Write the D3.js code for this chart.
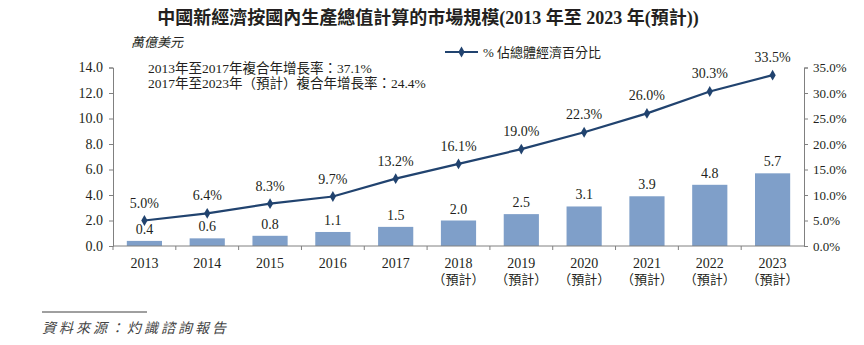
<!DOCTYPE html>
<html>
<head>
<meta charset="utf-8">
<script src="https://cdn.jsdelivr.net/npm/d3@7"></script>
<style>
  body { margin: 0; background: #fff; }
  svg { display: block; }
  text { font-family: "Liberation Serif", "Noto Sans CJK TC", serif; fill: #231f20; }
  .axis path, .axis line { stroke: #808080; }
</style>
</head>
<body>
<div id="vis"></div>
<script>
const FRAME_WIDTH = 864;
const FRAME_HEIGHT = 345;
const PLOT = {left: 113, right: 804, top: 67.5, bottom: 246};

// data
const years = ["2013", "2014", "2015", "2016", "2017", "2018", "2019", "2020", "2021", "2022", "2023"];
const forecast = [false, false, false, false, false, true, true, true, true, true, true];
const marketSize = [0.4, 0.6, 0.8, 1.1, 1.5, 2.0, 2.5, 3.1, 3.9, 4.8, 5.7];
const shareOfEconomy = [5.0, 6.4, 8.3, 9.7, 13.2, 16.1, 19.0, 22.3, 26.0, 30.3, 33.5];
const leftTicks = [0, 2, 4, 6, 8, 10, 12, 14];
const rightTicks = [0, 5, 10, 15, 20, 25, 30, 35];

const BAR_COLOR = "#7f9fc9";
const LINE_COLOR = "#21436f";

const svg = d3.select("#vis")
  .append("svg")
    .attr("width", FRAME_WIDTH)
    .attr("height", FRAME_HEIGHT);

// scales
const X_SCALE = d3.scaleBand()
  .domain(years)
  .range([PLOT.left, PLOT.right])
  .paddingInner(0.44)
  .paddingOuter(0.22);

const Y_LEFT = d3.scaleLinear().domain([0, 14]).range([PLOT.bottom, PLOT.top]);
const Y_RIGHT = d3.scaleLinear().domain([0, 35]).range([PLOT.bottom, PLOT.top]);

const cx = (d) => X_SCALE(d) + X_SCALE.bandwidth() / 2;

// title
svg.append("text")
  .attr("x", 428)
  .attr("y", 24)
  .attr("text-anchor", "middle")
  .attr("font-size", "18px")
  .attr("font-weight", "bold")
  .text("中國新經濟按國內生產總值計算的市場規模(2013 年至 2023 年(預計))");

// unit
svg.append("text")
  .attr("x", 131)
  .attr("y", 47)
  .attr("font-size", "13px")
  .attr("font-style", "italic")
  .text("萬億美元");

// CAGR notes
svg.append("text")
  .attr("x", 148)
  .attr("y", 73)
  .attr("font-size", "13.5px")
  .text("2013年至2017年複合年增長率：37.1%");
svg.append("text")
  .attr("x", 148)
  .attr("y", 88)
  .attr("font-size", "13.5px")
  .text("2017年至2023年（預計）複合年增長率：24.4%");

// bars
svg.selectAll(".bar")
  .data(marketSize)
  .enter()
  .append("rect")
    .attr("x", (d, i) => X_SCALE(years[i]))
    .attr("y", (d) => Y_LEFT(d))
    .attr("width", X_SCALE.bandwidth())
    .attr("height", (d) => Y_LEFT(0) - Y_LEFT(d))
    .attr("fill", BAR_COLOR);

svg.selectAll(".barLabel")
  .data(marketSize)
  .enter()
  .append("text")
    .attr("x", (d, i) => cx(years[i]))
    .attr("y", (d) => Y_LEFT(d) - 7)
    .attr("text-anchor", "middle")
    .attr("font-size", "14px")
    .text((d) => d.toFixed(1));

// left axis
svg.append("g")
  .attr("class", "axis")
  .attr("transform", "translate(" + PLOT.left + ",0)")
  .call(d3.axisLeft(Y_LEFT).tickValues(leftTicks).tickFormat(d3.format(".1f")).tickSize(4).tickPadding(6))
  .call((g) => g.selectAll("text").attr("font-size", "14px").style("font-family", "Liberation Serif"));

// right axis
svg.append("g")
  .attr("class", "axis")
  .attr("transform", "translate(" + PLOT.right + ",0)")
  .call(d3.axisRight(Y_RIGHT).tickValues(rightTicks).tickFormat((d) => d.toFixed(1) + "%").tickSize(4).tickPadding(5))
  .call((g) => g.selectAll("text").attr("font-size", "13px").style("font-family", "Liberation Serif"));

// bottom axis with ticks at band boundaries
const xAxis = svg.append("g").attr("class", "axis");
xAxis.append("line")
  .attr("x1", PLOT.left).attr("x2", PLOT.right)
  .attr("y1", PLOT.bottom).attr("y2", PLOT.bottom)
  .attr("stroke", "#808080");
xAxis.selectAll(".xtick")
  .data(years)
  .enter()
  .append("line")
    .attr("x1", (d) => X_SCALE(d) - X_SCALE.step() * X_SCALE.paddingInner() / 2)
    .attr("x2", (d) => X_SCALE(d) - X_SCALE.step() * X_SCALE.paddingInner() / 2)
    .attr("y1", PLOT.bottom)
    .attr("y2", PLOT.bottom + 4)
    .attr("stroke", "#808080");

xAxis.selectAll(".xlabel")
  .data(years)
  .enter()
  .append("text")
    .attr("x", (d) => cx(d))
    .attr("y", PLOT.bottom + 22)
    .attr("text-anchor", "middle")
    .attr("font-size", "14px")
    .text((d) => d);

xAxis.selectAll(".xsub")
  .data(years.filter((d, i) => forecast[i]))
  .enter()
  .append("text")
    .attr("x", (d) => cx(d))
    .attr("y", PLOT.bottom + 38)
    .attr("text-anchor", "middle")
    .attr("font-size", "13px")
    .text("（預計）");

// line
const line = d3.line()
  .x((d, i) => cx(years[i]))
  .y((d) => Y_RIGHT(d));

svg.append("path")
  .datum(shareOfEconomy)
  .attr("d", line)
  .attr("fill", "none")
  .attr("stroke", LINE_COLOR)
  .attr("stroke-width", 2.2);

const diamond = d3.symbol().type(d3.symbolDiamond).size(34);

svg.selectAll(".pt")
  .data(shareOfEconomy)
  .enter()
  .append("path")
    .attr("d", diamond)
    .attr("transform", (d, i) => "translate(" + cx(years[i]) + "," + Y_RIGHT(d) + ")")
    .attr("fill", LINE_COLOR);

svg.selectAll(".ptLabel")
  .data(shareOfEconomy)
  .enter()
  .append("text")
    .attr("x", (d, i) => cx(years[i]))
    .attr("y", (d) => Y_RIGHT(d) - 13)
    .attr("text-anchor", "middle")
    .attr("font-size", "14px")
    .text((d) => d.toFixed(1) + "%");

// legend
svg.append("line")
  .attr("x1", 445).attr("x2", 478)
  .attr("y1", 52).attr("y2", 52)
  .attr("stroke", LINE_COLOR)
  .attr("stroke-width", 2.2);
svg.append("path")
  .attr("d", diamond)
  .attr("transform", "translate(461.5,52)")
  .attr("fill", LINE_COLOR);
svg.append("text")
  .attr("x", 483)
  .attr("y", 57)
  .attr("font-size", "13px")
  .text("% 佔總體經濟百分比");

// source
svg.append("line")
  .attr("x1", 42).attr("x2", 147)
  .attr("y1", 312).attr("y2", 312)
  .attr("stroke", "#404040")
  .attr("stroke-width", 1);
svg.append("text")
  .attr("x", 42)
  .attr("y", 333)
  .attr("font-size", "14px")
  .attr("font-style", "italic")
  .attr("letter-spacing", "3px")
  .style("fill", "#444")
  .text("資料來源：灼識諮詢報告");
</script>
</body>
</html>
